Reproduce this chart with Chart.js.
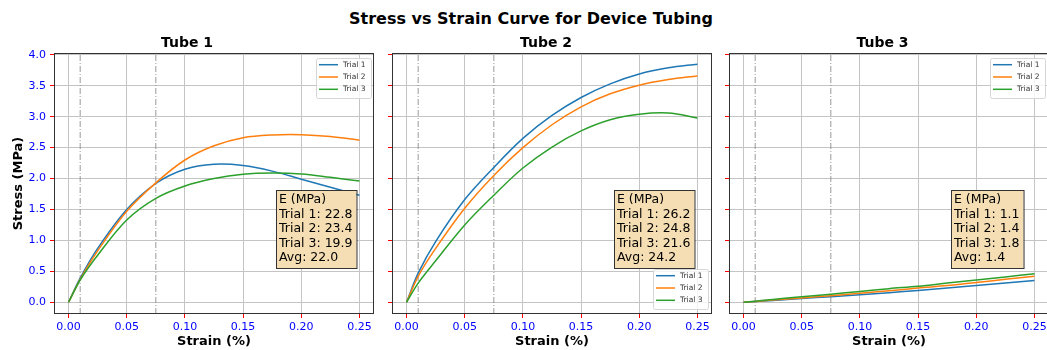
<!DOCTYPE html>
<html>
<head>
<meta charset="utf-8">
<title>Stress vs Strain Curve for Device Tubing</title>
<script src="https://cdn.jsdelivr.net/npm/chart.js@4.4.1/dist/chart.umd.min.js"></script>
<style>
  html, body { margin: 0; padding: 0; background: #fff; overflow: hidden; }
  #page { position: relative; width: 1047px; height: 350px; overflow: hidden; }
  #suptitle {
    position: absolute; left: 0; top: 9px; width: 1062px;
    text-align: center; font: bold 16px "DejaVu Sans", sans-serif; color: #000;
  }
  canvas { position: absolute; top: 0; }
</style>
</head>
<body>
<div id="page">
  <div id="suptitle">Stress vs Strain Curve for Device Tubing</div>
  <canvas id="tube1" width="380" height="350" style="left:0px"></canvas>
  <canvas id="tube2" width="338" height="350" style="left:380px"></canvas>
  <canvas id="tube3" width="340" height="350" style="left:716px"></canvas>
</div>
<script>
// strain samples shared by every trial
const strain = [0, 0.01, 0.025, 0.05, 0.075, 0.1, 0.125, 0.15, 0.175, 0.2, 0.225, 0.25];
const trialLabels = ['Trial 1', 'Trial 2', 'Trial 3'];
const trialColors = ['#1f77b4', '#ff7f0e', '#2ca02c'];

// stress (MPa) per trial
const tube1Trial1 = [0, 0.39, 0.87, 1.50, 1.92, 2.15, 2.23, 2.21, 2.12, 1.99, 1.86, 1.73];
const tube1Trial2 = [0, 0.37, 0.83, 1.47, 1.93, 2.30, 2.53, 2.66, 2.705, 2.71, 2.68, 2.62];
const tube1Trial3 = [0, 0.36, 0.76, 1.33, 1.68, 1.88, 2.00, 2.07, 2.09, 2.075, 2.02, 1.96];

const tube2Trial1 = [0, 0.47, 0.98, 1.66, 2.18, 2.65, 3.02, 3.31, 3.53, 3.69, 3.79, 3.85];
const tube2Trial2 = [0, 0.42, 0.87, 1.52, 2.05, 2.50, 2.87, 3.16, 3.37, 3.51, 3.60, 3.66];
const tube2Trial3 = [0, 0.31, 0.67, 1.25, 1.73, 2.17, 2.51, 2.77, 2.95, 3.04, 3.06, 2.98];

const tube3Trial1 = [0, 0.012, 0.03, 0.06, 0.09, 0.12, 0.155, 0.19, 0.23, 0.27, 0.31, 0.35];
const tube3Trial2 = [0, 0.014, 0.035, 0.07, 0.105, 0.145, 0.185, 0.23, 0.27, 0.32, 0.37, 0.42];
const tube3Trial3 = [0, 0.018, 0.045, 0.09, 0.13, 0.175, 0.22, 0.26, 0.31, 0.36, 0.41, 0.46];

// elastic modulus per trial (MPa)
const tube1Modulus = [22.8, 23.4, 19.9];
const tube2Modulus = [26.2, 24.8, 21.6];
const tube3Modulus = [1.1, 1.4, 1.8];

// fit window markers
const markerStrains = [0.01, 0.075];

const xTicks = [0, 0.05, 0.10, 0.15, 0.20, 0.25];
const yTicks = [0, 0.5, 1.0, 1.5, 2.0, 2.5, 3.0, 3.5, 4.0];
const xMin = -0.0125, xMax = 0.2625;
const yMin = -0.19, yMax = 4.03;

const FONT = '"DejaVu Sans", sans-serif';
Chart.defaults.font.family = FONT;

// axes frame, inset legend and modulus box
const decorPlugin = {
    id: 'decor',
    afterDraw(chart, args, opts) {
        const ctx = chart.ctx;
        const a = chart.chartArea;
        ctx.save();

        // frame
        ctx.strokeStyle = '#333';
        ctx.lineWidth = 1;
        ctx.strokeRect(Math.round(a.left) + 0.5, Math.round(a.top) + 0.5,
            Math.round(a.right - a.left) - 1, Math.round(a.bottom - a.top) - 1);

        // legend
        const lw = 55, lh = 40;
        const lx = a.right - opts.legendInset - lw;
        const ly = opts.legend === 'upper' ? a.top + 5 : a.bottom - 5 - lh;
        ctx.beginPath();
        ctx.roundRect(lx + 0.5, ly + 0.5, lw, lh, 2);
        ctx.fillStyle = 'rgba(255,255,255,0.8)';
        ctx.fill();
        ctx.strokeStyle = '#d6d6d6';
        ctx.stroke();
        ctx.font = '7.5px ' + FONT;
        ctx.textBaseline = 'middle';
        trialLabels.forEach((label, i) => {
            const ry = ly + 6.7 + i * 12.3;
            ctx.beginPath();
            ctx.moveTo(lx + 3, ry);
            ctx.lineTo(lx + 22, ry);
            ctx.strokeStyle = trialColors[i];
            ctx.lineWidth = 1.5;
            ctx.stroke();
            ctx.fillStyle = '#333';
            ctx.fillText(label, lx + 27, ry);
        });

        // modulus box
        const m = opts.moduli;
        const avg = m.reduce((s, v) => s + v, 0) / m.length;
        const lines = ['E (MPa)']
            .concat(m.map((v, i) => trialLabels[i] + ': ' + v.toFixed(1)))
            .concat(['Avg: ' + avg.toFixed(1)]);
        ctx.font = '12.5px ' + FONT;
        const bw = Math.max(...lines.map(t => ctx.measureText(t).width)) + 7;
        const bx = Math.round(a.left + 222), by = Math.round(a.top + 137);
        ctx.fillStyle = '#f5deb3';
        ctx.fillRect(bx, by, bw, 78);
        ctx.strokeStyle = '#333';
        ctx.lineWidth = 1;
        ctx.strokeRect(bx + 0.5, by + 0.5, bw, 78);
        ctx.fillStyle = '#000';
        ctx.textBaseline = 'alphabetic';
        lines.forEach((t, i) => ctx.fillText(t, bx + 3, by + 13.3 + i * 14.4));

        ctx.restore();
    }
};

function toPoints(ys) {
    return ys.map((y, i) => ({ x: strain[i], y: y }));
}

function makeTube(canvasId, title, trials, moduli, layout) {
    const datasets = trials.map((ys, i) => ({
        label: trialLabels[i],
        data: toPoints(ys),
        borderColor: trialColors[i],
        borderWidth: 1.5,
        pointRadius: 0,
        tension: 0.35,
        order: 3 - i
    }));
    markerStrains.forEach(s => {
        datasets.push({
            label: 'marker',
            data: [{ x: s, y: yMin }, { x: s, y: yMax }],
            borderColor: 'rgba(128,128,128,0.8)',
            borderWidth: 1,
            borderDash: [6, 2, 1, 2],
            pointRadius: 0,
            order: 4
        });
    });

    new Chart(document.getElementById(canvasId), {
        type: 'line',
        data: { datasets: datasets },
        options: {
            responsive: false,
            animation: false,
            devicePixelRatio: 1,
            layout: { padding: { top: 0, left: 0, bottom: 0, right: layout.padRight } },
            plugins: {
                legend: { display: false },
                tooltip: { enabled: false },
                title: {
                    display: true,
                    text: title,
                    color: '#000',
                    font: { size: 14, weight: 'bold', lineHeight: 1.2 },
                    padding: { top: 35, bottom: 1.2 }
                },
                decor: { moduli: moduli, legend: layout.legend, legendInset: layout.legendInset }
            },
            scales: {
                x: {
                    type: 'linear',
                    min: xMin,
                    max: xMax,
                    afterBuildTicks: s => { s.ticks = xTicks.map(v => ({ value: v })); },
                    afterFit: s => { s.height = 36; },
                    border: { display: false },
                    grid: { color: '#c4c4c4', lineWidth: 1, tickColor: 'red', tickLength: 4 },
                    ticks: {
                        color: 'blue', font: { size: 11 }, padding: 3,
                        maxRotation: 0, autoSkip: false,
                        callback: v => Number(v).toFixed(2)
                    },
                    title: {
                        display: true, text: 'Strain (%)', color: '#000',
                        font: { size: 13, weight: 'bold', lineHeight: 1.2 },
                        padding: { top: 0, bottom: 1 }
                    }
                },
                y: {
                    type: 'linear',
                    min: yMin,
                    max: yMax,
                    afterBuildTicks: s => { s.ticks = yTicks.map(v => ({ value: v })); },
                    afterFit: s => { s.width = layout.yWidth; },
                    border: { display: false },
                    grid: { color: '#c4c4c4', lineWidth: 1, tickColor: 'red', tickLength: 4 },
                    ticks: {
                        display: layout.showY, color: 'blue', font: { size: 11 }, padding: 4,
                        callback: v => Number(v).toFixed(1)
                    },
                    title: {
                        display: layout.showY, text: 'Stress (MPa)', color: '#000',
                        font: { size: 13, weight: 'bold', lineHeight: 1.2 },
                        padding: { top: 10.5, bottom: 0 }
                    }
                }
            }
        },
        plugins: [decorPlugin]
    });
}

makeTube('tube1', 'Tube 1', [tube1Trial1, tube1Trial2, tube1Trial3], tube1Modulus,
    { yWidth: 54, padRight: 6, showY: true, legend: 'upper', legendInset: 3 });
makeTube('tube2', 'Tube 2', [tube2Trial1, tube2Trial2, tube2Trial3], tube2Modulus,
    { yWidth: 12, padRight: 6, showY: false, legend: 'lower', legendInset: 4 });
makeTube('tube3', 'Tube 3', [tube3Trial1, tube3Trial2, tube3Trial3], tube3Modulus,
    { yWidth: 13, padRight: 7, showY: false, legend: 'upper', legendInset: 4 });
</script>
</body>
</html>
